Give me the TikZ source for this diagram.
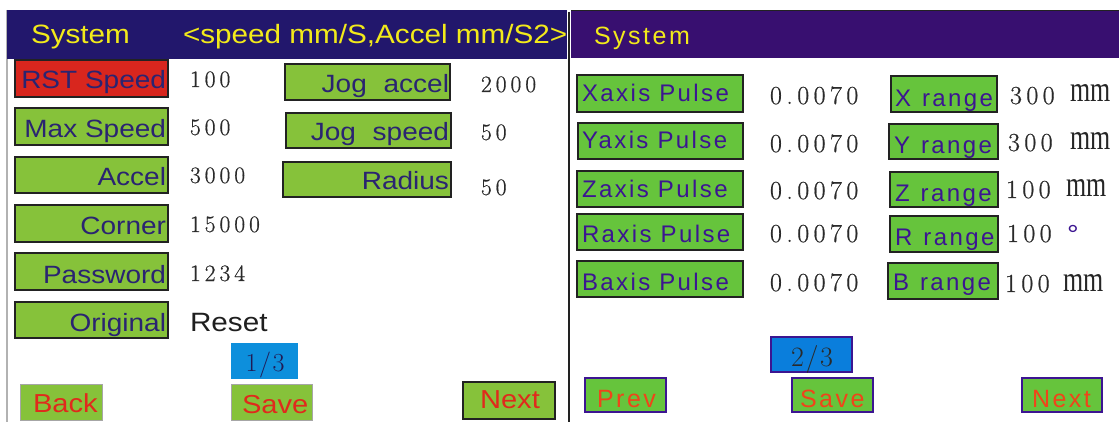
\documentclass[tikz,border=0pt]{standalone}
\usepackage{fontspec}
\newfontfamily\keyfont[FakeStretch=1.12]{Liberation Sans}
\newfontfamily\keyfontsp[LetterSpace=10]{Liberation Sans}
\newfontfamily\digitfont[LetterSpace=17,FakeBold=0.6]{Latin Modern Roman}
\newfontfamily\pagefont[LetterSpace=6]{Latin Modern Roman}
\newfontfamily\unitfont[FakeStretch=0.72]{Liberation Serif}

\definecolor{navybar}{HTML}{22176C}
\definecolor{purplebar}{HTML}{380F70}
\definecolor{titleyellow}{HTML}{F2EA1A}
\definecolor{lgreen}{HTML}{86C23A}
\definecolor{rgreen}{HTML}{66C43C}
\definecolor{navytext}{HTML}{2A2471}
\definecolor{purptext}{HTML}{3C1591}
\definecolor{keyred}{HTML}{D8261E}
\definecolor{redtext}{HTML}{E02A1C}
\definecolor{orangetext}{HTML}{F0441A}
\definecolor{pageblueA}{HTML}{0D8FDC}
\definecolor{pageblueB}{HTML}{0A7EDC}
\definecolor{valgray}{HTML}{2A2A2A}
\definecolor{edge}{HTML}{222222}

\tikzset{
  px/.style={x=1pt,y=-1pt},
  lkey/.style={draw=edge,line width=2.5pt,fill=lgreen},
  rkey/.style={draw=edge,line width=2.5pt,fill=rgreen},
  softkey/.style={draw=gray!70,line width=1pt,fill=lgreen},
  navkey/.style={draw=purptext,line width=1.5pt,fill=rgreen},
  txt/.style={inner sep=0pt,outer sep=0pt},
  ltxt/.style={txt,anchor=base east,text=navytext,font=\keyfont\fontsize{25}{25}\selectfont},
  rtxt/.style={txt,anchor=base west,text=purptext,font=\keyfontsp\fontsize{24}{24}\selectfont},
  lval/.style={txt,anchor=base west,text=valgray,font=\digitfont\fontsize{23.5}{23.5}\selectfont},
  rval/.style={txt,anchor=base west,text=valgray,font=\digitfont\fontsize{26}{26}\selectfont},
  unit/.style={txt,anchor=base west,text=black!85,font=\unitfont\fontsize{36}{36}\selectfont},
  title/.style={txt,anchor=base west,text=titleyellow},
  lnav/.style={txt,anchor=base west,text=redtext,font=\keyfont\fontsize{26}{26}\selectfont},
  rnav/.style={txt,anchor=base west,text=orangetext,font=\keyfontsp\fontsize{25}{25}\selectfont},
}

\begin{document}
\begin{tikzpicture}[px]
\useasboundingbox (0,0) rectangle (1119,422);
\fill[white] (0,0) rectangle (1119,422);

% ---------- page 1/3 ----------
\draw[gray!60,line width=1.2pt] (7,10) -- (7,422);
\fill[navybar] (7,10) rectangle (567,59);
\node[title,font=\keyfont\fontsize{26.5}{26.5}\selectfont] (t1) at (31,44) {System};
\node[title,font=\keyfont\fontsize{26.5}{26.5}\selectfont] (t1u) at (183,44) {<speed mm/S,Accel mm/S2>};

% left column of keys
\draw[lkey,fill=keyred] (15,60) rectangle (168,97);
\node[ltxt] (rst) at (166,89) {RST Speed};
\draw[lkey] (15,108) rectangle (168,145);
\node[ltxt] (maxs) at (166,138) {Max Speed};
\draw[lkey] (15,157) rectangle (168,193);
\node[ltxt] (acc) at (166,186) {Accel};
\draw[lkey] (15,205) rectangle (168,242);
\node[ltxt] (cor) at (166,235) {Corner};
\draw[lkey] (15,253) rectangle (168,290);
\node[ltxt] (pwd) at (166,283) {Password};
\draw[lkey] (15,302) rectangle (168,338);
\node[ltxt] (org) at (166,331) {Original};

\node[lval] (v1) at (190,87) {100};
\node[lval] (v2) at (190,135) {500};
\node[lval] (v3) at (190,183) {3000};
\node[lval] (v4) at (190,232) {15000};
\node[lval] (v5) at (190,281) {1234};
\node[txt,anchor=base west,text=black!88,font=\keyfont\fontsize{26.5}{26.5}\selectfont] (rst2) at (190,331) {Reset};

% right column of keys
\draw[lkey] (285,64) rectangle (450,100);
\node[ltxt] (jga) at (449,93) {Jog\hspace{9pt} accel};
\draw[lkey] (286,113) rectangle (451,148);
\node[ltxt] (jgs) at (449,141) {Jog\hspace{9pt} speed};
\draw[lkey] (283,162) rectangle (451,197);
\node[ltxt] (rad) at (449,190) {Radius};

\node[lval] (w1) at (481,92) {2000};
\node[lval] (w2) at (481,140) {50};
\node[lval] (w3) at (481,195) {50};

% page indicator and navigation
\fill[pageblueA] (231,343) rectangle (298,379);
\node[txt,anchor=base,text=navytext!75!black,font=\pagefont\fontsize{26}{26}\selectfont] (pg1) at (265,371) {1/3};
\draw[softkey] (20,384) rectangle (102,420);
\node[lnav] (back) at (33,412) {Back};
\draw[softkey] (231,384) rectangle (312,420);
\node[lnav] (save1) at (242,413) {Save};
\draw[lkey] (463,382) rectangle (555,419);
\node[lnav] (next1) at (480,408) {Next};

% ---------- page 2/3 ----------
\draw[edge,line width=2pt] (569,12) -- (569,422);
\fill[purplebar] (571,10) rectangle (1119,58);
\draw[edge,line width=1pt] (571,10.5) -- (1119,10.5);
\node[title,font=\keyfontsp\fontsize{25}{25}\selectfont] (t2) at (594,45) {System};

% axis pulse keys
\draw[rkey] (577,75) rectangle (743,112);
\node[rtxt] (xp) at (582,102) {Xaxis Pulse};
\draw[rkey] (578,123) rectangle (743,159);
\node[rtxt] (yp) at (582,149) {Yaxis Pulse};
\draw[rkey] (577,171) rectangle (743,207);
\node[rtxt] (zp) at (582,198) {Zaxis Pulse};
\draw[rkey] (577,214) rectangle (743,250);
\node[rtxt] (rp) at (582,243) {Raxis Pulse};
\draw[rkey] (577,261) rectangle (743,297);
\node[rtxt] (bp) at (582,290) {Baxis Pulse};

\node[rval] (p1) at (770,104) {0.0070};
\node[rval] (p2) at (770,152) {0.0070};
\node[rval] (p3) at (770,199) {0.0070};
\node[rval] (p4) at (770,242) {0.0070};
\node[rval] (p5) at (770,291) {0.0070};

% range keys
\draw[rkey] (891,76) rectangle (997,112);
\node[rtxt] (xr) at (895,107) {X\hspace{2pt} range};
\draw[rkey] (889,124) rectangle (998,159);
\node[rtxt] (yr) at (894,154) {Y\hspace{2pt} range};
\draw[rkey] (890,172) rectangle (998,207);
\node[rtxt] (zr) at (895,202) {Z\hspace{2pt} range};
\draw[rkey] (890,216) rectangle (998,252);
\node[rtxt] (rr) at (895,245) {R\hspace{2pt} range};
\draw[rkey] (888,263) rectangle (998,299);
\node[rtxt] (br) at (893,290) {B\hspace{2pt} range};

\node[rval] (q1) at (1010,104) {300};
\node[unit] (u1) at (1070,102) {mm};
\node[rval] (q2) at (1008,151) {300};
\node[unit] (u2) at (1070,150) {mm};
\node[rval] (q3) at (1006,198) {100};
\node[unit] (u3) at (1066,197) {mm};
\node[rval] (q4) at (1007,242) {100};
\node[txt,anchor=center,text=purptext,font=\keyfont\fontsize{26}{26}\selectfont] (u4) at (1073,234) {°};
\node[rval] (q5) at (1005,292) {100};
\node[unit] (u5) at (1063,291) {mm};

% page indicator and navigation
\draw[fill=pageblueB,draw=purptext,line width=1.2pt] (771,337) rectangle (852,372);
\node[txt,anchor=base,text=valgray,font=\pagefont\fontsize{28}{28}\selectfont] (pg2) at (812,366) {2/3};
\draw[navkey] (585,378) rectangle (666,412);
\node[rnav] (prev) at (597,407) {Prev};
\draw[navkey] (792,378) rectangle (873,412);
\node[rnav] (save2) at (800,407) {Save};
\draw[navkey] (1022,378) rectangle (1102,412);
\node[rnav] (next2) at (1032,407) {Next};
\end{tikzpicture}
\end{document}
